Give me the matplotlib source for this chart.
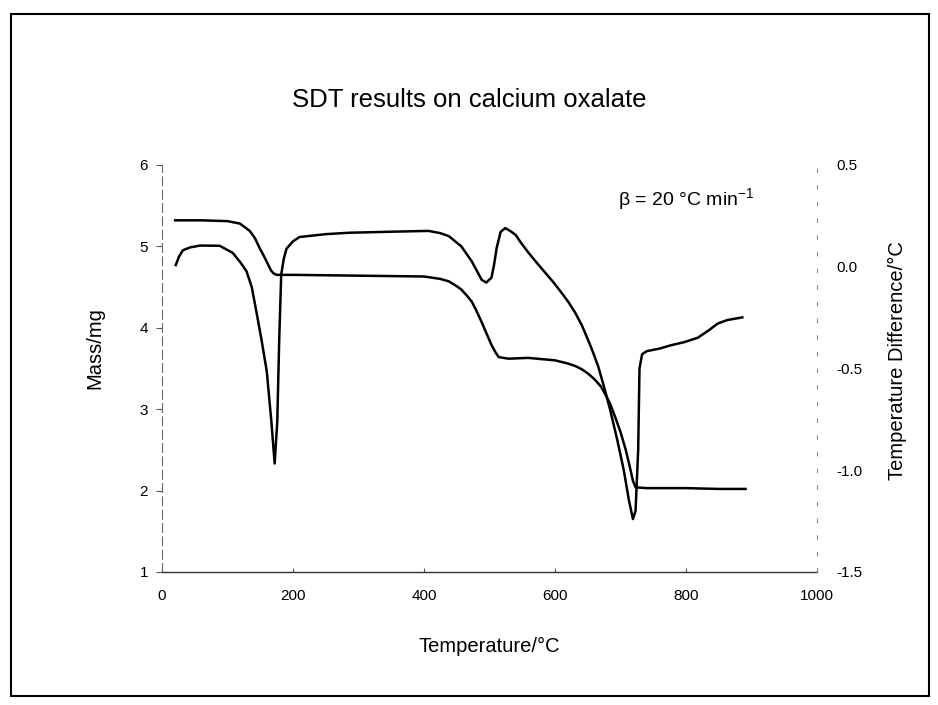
import numpy as np
import matplotlib
matplotlib.use('Agg')
from matplotlib import pyplot as plt
from matplotlib.patches import Rectangle

plt.rcParams['font.family'] = ['Liberation Sans', 'DejaVu Sans']
plt.rcParams['mathtext.fontset'] = 'custom'
plt.rcParams['mathtext.rm'] = 'Liberation Sans'

# TG trace: temperature (°C) vs mass (mg)
tg_temp = [20, 60, 100, 119, 134, 142, 149, 155, 160, 166, 170, 175, 200, 300, 400,
           425, 438, 450, 457, 466, 473, 480, 488, 496, 503, 509, 514, 529, 559, 600,
           620, 631, 641, 650, 660, 670, 677, 684, 692, 700, 708, 714, 719, 723, 740,
           800, 850, 891]
tg_mass = [5.32, 5.32, 5.31, 5.28, 5.19, 5.10, 4.98, 4.89, 4.81, 4.71, 4.67, 4.65, 4.65, 4.64, 4.63,
           4.60, 4.57, 4.51, 4.47, 4.39, 4.32, 4.21, 4.07, 3.92, 3.79, 3.70, 3.64, 3.62, 3.63, 3.60,
           3.56, 3.53, 3.49, 3.44, 3.37, 3.28, 3.18, 3.07, 2.90, 2.72, 2.50, 2.30, 2.12, 2.04, 2.03,
           2.03, 2.02, 2.02]

# DTA trace: temperature (°C) vs temperature difference (°C)
dta_temp = [21, 26, 32, 43, 58, 88, 108, 120, 129, 137, 144, 152, 160, 167, 172, 176, 179, 182,
            186, 190, 200, 210, 250, 286, 350, 407, 425, 438, 457, 473, 488, 495, 503, 507, 511,
            517, 524, 532, 540, 548, 559, 572, 585, 598, 610, 621, 631, 641, 650, 658, 666, 676,
            684, 695, 705, 713, 719, 723, 727, 729, 733, 740, 760, 777, 798, 818, 835, 848, 863,
            886]
dta_diff = [0.008, 0.05, 0.081, 0.095, 0.104, 0.103, 0.068, 0.02, -0.022, -0.10, -0.219, -0.36,
            -0.515, -0.761, -0.967, -0.761, -0.354, -0.039, 0.04, 0.088, 0.125, 0.146, 0.16, 0.167,
            0.172, 0.176, 0.165, 0.150, 0.100, 0.026, -0.064, -0.078, -0.054, 0.01, 0.093, 0.171,
            0.190, 0.175, 0.156, 0.118, 0.071, 0.020, -0.029, -0.078, -0.128, -0.176, -0.227,
            -0.288, -0.356, -0.420, -0.490, -0.603, -0.701, -0.85, -1.0, -1.15, -1.24, -1.20,
            -0.9, -0.5, -0.43, -0.415, -0.402, -0.386, -0.370, -0.349, -0.312, -0.280, -0.262,
            -0.249]

x_ticks = [0, 200, 400, 600, 800, 1000]
mass_ticks = [1, 2, 3, 4, 5, 6]
diff_ticks = [-1.5, -1.0, -0.5, 0.0, 0.5]

fig = plt.figure(figsize=(9.38, 7.05), dpi=100)
ax = fig.add_axes([0.1727, 0.1887, 0.6983, 0.5773])
ax2 = ax.twinx()

ax.plot(tg_temp, tg_mass, color='black', lw=1.8)
ax2.plot(dta_temp, dta_diff, color='black', lw=1.8)

ax.set_xlim(0, 1000)
ax.set_ylim(1, 6)
ax2.set_ylim(-1.5, 0.5)
ax.set_xticks(x_ticks)
ax.set_yticks(mass_ticks)
ax2.set_yticks(diff_ticks)
ax2.set_yticklabels(['%.1f' % v for v in diff_ticks])

for a in (ax, ax2):
    for s in a.spines.values():
        s.set_visible(False)
ax.spines['left'].set_visible(True)
ax.spines['bottom'].set_visible(True)
ax2.spines['right'].set_visible(True)
ax.spines['left'].set_color('#666666')
ax.spines['left'].set_linestyle((0, (8, 4)))
ax.spines['left'].set_linewidth(0.8)
ax.spines['bottom'].set_color('#333333')
ax.spines['bottom'].set_linewidth(1.0)
ax2.spines['right'].set_color('#888888')
ax2.spines['right'].set_linestyle((0, (3, 12)))
ax2.spines['right'].set_linewidth(0.8)

ax.tick_params(axis='y', direction='out', length=4, width=0.8, color='#555555',
               labelsize=11, pad=6)
ax.tick_params(axis='x', direction='in', length=3, width=0.8, color='#555555',
               labelsize=11, pad=12)
ax2.tick_params(axis='y', direction='out', length=0, labelsize=11, pad=14)

ax.set_xlabel('Temperature/°C', fontsize=14.5, labelpad=25)
ax.set_ylabel('Mass/mg', fontsize=14.5)
ax.yaxis.set_label_coords(-0.088, 0.55)
ax2.set_ylabel('Temperature Difference/°C', fontsize=14.5)
ax2.yaxis.set_label_coords(1.108, 0.52)

ax.text(0.80, 0.915, 'β = 20 °C min$^{-1}$', transform=ax.transAxes,
        ha='center', va='center', fontsize=14)

fig.text(0.5, 0.858, 'SDT results on calcium oxalate', ha='center', va='center',
         fontsize=18.5)

# chart frame
fig.patches.append(Rectangle((0.012, 0.013), 0.978, 0.967, transform=fig.transFigure,
                             fill=False, edgecolor='black', linewidth=1.5))

fig.savefig('out.png', dpi=100)
